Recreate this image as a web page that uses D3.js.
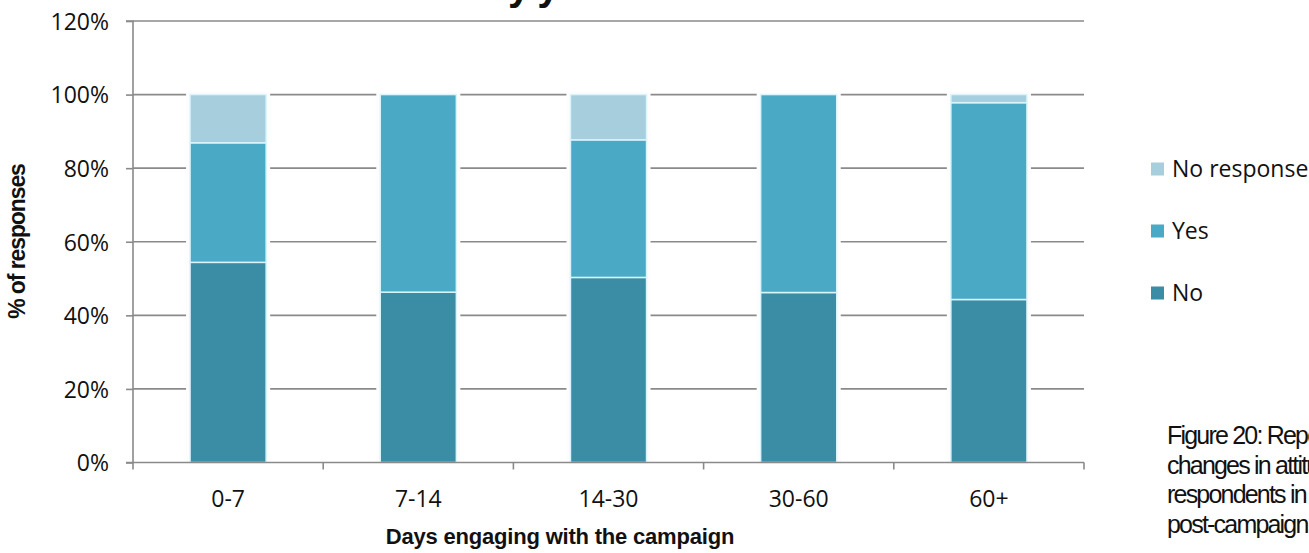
<!DOCTYPE html>
<html>
<head>
<meta charset="utf-8">
<script src="https://cdn.jsdelivr.net/npm/d3@7"></script>
<style>
  html, body { margin: 0; padding: 0; background: #fff; overflow: hidden; }
  svg { display: block; }
</style>
</head>
<body>
<svg id="chart" width="1309" height="553"></svg>
<script>
// Share of answers per engagement band (fractions of respondents)
const categories = ["0-7", "7-14", "14-30", "30-60", "60+"];
const seriesNames = ["No", "Yes", "No response"];
const noValues = [0.544, 0.463, 0.503, 0.462, 0.443];
const yesValues = [0.325, 0.537, 0.374, 0.538, 0.535];
const noResponseValues = [0.131, 0.0, 0.123, 0.0, 0.022];
const yTickValues = [0, 0.2, 0.4, 0.6, 0.8, 1.0, 1.2];
const legendOrder = ["No response", "Yes", "No"];
const captionLines = ["Figure 20: Reported", "changes in attitudes of", "respondents in the", "post-campaign survey"];
const chartTitle = "Attitude shift by your time";

const colors = { "No": "#3b8ca5", "Yes": "#4aaac5", "No response": "#a7cedc" };

const rows = categories.map((c, i) => ({
  cat: c, "No": noValues[i], "Yes": yesValues[i], "No response": noResponseValues[i]
}));

const svg = d3.select("#chart");
const plotLeft = 133, plotRight = 1084, plotTop = 21, plotBottom = 462.5;

const x = d3.scaleBand().domain(categories).range([plotLeft, plotRight]).paddingInner(0.6).paddingOuter(0.3);
const y = d3.scaleLinear().domain([0, 1.2]).range([plotBottom, plotTop]);

// horizontal gridlines
svg.append("g").selectAll("line").data(yTickValues.filter(v => v > 0)).join("line")
  .attr("x1", plotLeft).attr("x2", plotRight)
  .attr("y1", d => y(d)).attr("y2", d => y(d))
  .attr("stroke", "#8a8a8a").attr("stroke-width", 1.6);

const stack = d3.stack().keys(seriesNames)(rows);

// white gap around each column where the gridlines stop
svg.append("g").selectAll("rect").data(rows).join("rect")
  .attr("x", d => x(d.cat) - 4)
  .attr("width", x.bandwidth() + 8)
  .attr("y", y(1) - 3)
  .attr("height", plotBottom - y(1) + 3)
  .attr("fill", "#fdfdfe");

// stacked bars
const g = svg.append("g");
stack.forEach(layer => {
  g.append("g").selectAll("rect").data(layer.filter(d => d[1] - d[0] > 0)).join("rect")
    .attr("x", d => x(d.data.cat))
    .attr("width", x.bandwidth())
    .attr("y", d => y(d[1]))
    .attr("height", d => y(d[0]) - y(d[1]))
    .attr("fill", colors[layer.key])
    .attr("stroke", "#d9f4fa")
    .attr("stroke-width", 1.5);
});

// y axis
const yAxis = d3.axisLeft(y).tickValues(yTickValues).tickFormat(d3.format(".0%")).tickSize(7).tickPadding(17);
const ya = svg.append("g").attr("transform", `translate(${plotLeft},0)`).call(yAxis);
ya.select(".domain").attr("stroke", "#8a8a8a").attr("stroke-width", 1.6).attr("d", `M-7,${plotTop}H0V${plotBottom}H-7`);
ya.selectAll(".tick line").attr("stroke", "#8a8a8a").attr("stroke-width", 1.6);
ya.selectAll(".tick text").attr("font-family", "Open Sans").attr("font-size", 23).attr("fill", "#111")
  .attr("dy", "0.36em");

// x axis
const xAxis = d3.axisBottom(x).tickSize(0);
const xa = svg.append("g").attr("transform", `translate(0,${plotBottom})`).call(xAxis);
xa.select(".domain").attr("stroke", "#8a8a8a").attr("stroke-width", 1.6).attr("d", `M${plotLeft},0H${plotRight}`);
xa.selectAll(".tick text").attr("font-family", "Open Sans").attr("font-size", 23).attr("fill", "#111")
  .attr("y", 44.5).attr("dy", 0);
const boundaries = categories.map(c => x(c) - x.step() * x.paddingInner() / 2).concat([plotRight]);
xa.append("g").selectAll("line").data(boundaries).join("line")
  .attr("x1", d => d).attr("x2", d => d).attr("y1", 0).attr("y2", 7)
  .attr("stroke", "#8a8a8a").attr("stroke-width", 1.6);

// axis titles
svg.append("text").attr("x", 560).attr("y", 544).attr("text-anchor", "middle")
  .attr("font-family", "Liberation Sans").attr("font-weight", "bold").attr("font-size", 22)
  .attr("letter-spacing", -0.2).attr("fill", "#111").text("Days engaging with the campaign");

svg.append("text").attr("transform", "translate(25,241.5) rotate(-90)").attr("text-anchor", "middle")
  .attr("font-family", "Liberation Sans").attr("font-weight", "bold").attr("font-size", 23)
  .attr("letter-spacing", -1.1).attr("fill", "#111").text("% of responses");

// chart title, sitting above the top edge so only its descenders show
const title = svg.append("text").attr("x", 0).attr("y", 0)
  .attr("font-family", "Liberation Sans").attr("font-weight", "bold").attr("font-size", 40)
  .attr("letter-spacing", -2).attr("fill", "#111").text(chartTitle);
const yIndex = chartTitle.indexOf("by") + 1;
const yStart = title.node().getStartPositionOfChar(yIndex).x;
title.attr("x", 508 - yStart);

// legend
const lg = svg.append("g").selectAll("g").data(legendOrder).join("g")
  .attr("transform", (d, i) => `translate(1151,${169 + i * 62})`);
lg.append("rect").attr("x", 0).attr("y", -6.5).attr("width", 13).attr("height", 13)
  .attr("fill", d => colors[d]);
lg.append("text").attr("x", 21).attr("y", 0).attr("dy", "0.36em")
  .attr("font-family", "Open Sans").attr("font-size", 23).attr("fill", "#111").text(d => d);

// figure caption
svg.append("g").selectAll("text").data(captionLines).join("text")
  .attr("x", 1167).attr("y", (d, i) => 444 + i * 29.5)
  .attr("font-family", "Liberation Sans").attr("font-size", 25).attr("letter-spacing", -1.8)
  .attr("fill", "#111").text(d => d);
</script>
</body>
</html>
